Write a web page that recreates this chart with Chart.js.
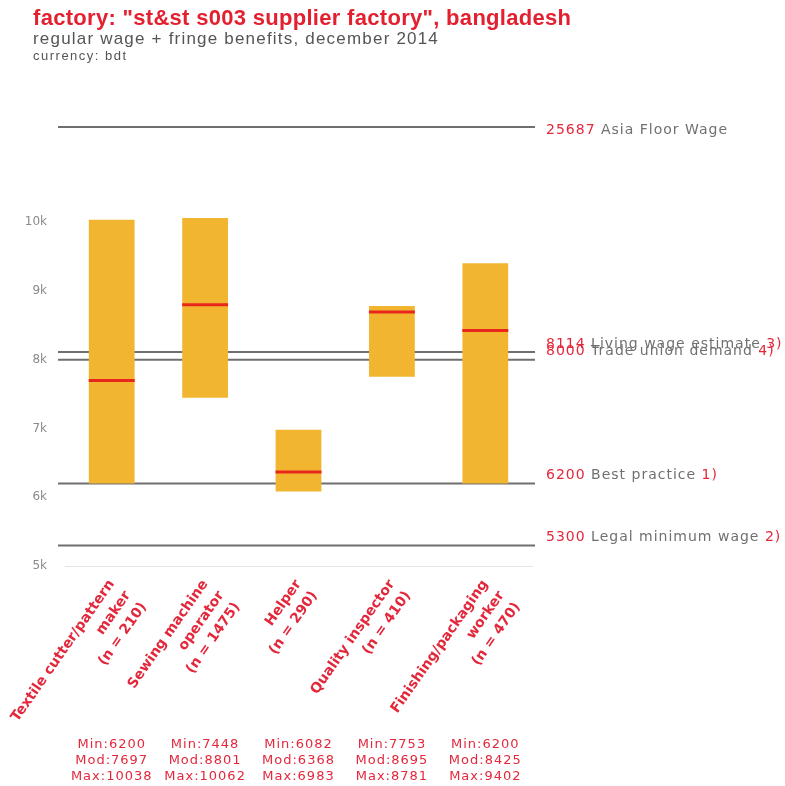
<!DOCTYPE html>
<html>
<head>
<meta charset="utf-8">
<script src="https://cdn.jsdelivr.net/npm/chart.js@4.4.1/dist/chart.umd.min.js"></script>
<style>
  html, body { margin: 0; padding: 0; background: #fff; }
  #wrap { position: relative; width: 785px; height: 786px; }
  #wageChart { position: absolute; left: 0; top: 0; }
  .head { position: absolute; left: 33px; white-space: nowrap; font-family: "Liberation Sans", Arial, sans-serif; }
  #t1 { top: 5px; font-size: 22px; font-weight: bold; color: #e3202f; letter-spacing: 0.3px; }
  #t2 { top: 29px; font-size: 17px; color: #555; letter-spacing: 1.2px; }
  #t3 { top: 48px; font-size: 13px; color: #555; letter-spacing: 1.5px; }
</style>
</head>
<body>
<div id="wrap">
  <canvas id="wageChart" width="785" height="786"></canvas>
  <div class="head" id="t1">factory: "st&amp;st s003 supplier factory", bangladesh</div>
  <div class="head" id="t2">regular wage + fringe benefits, december 2014</div>
  <div class="head" id="t3">currency: bdt</div>
</div>
<script>
const jobLabels = [
    ["Textile cutter/pattern", "maker", "(n = 210)"],
    ["Sewing machine", "operator", "(n = 1475)"],
    ["Helper", "(n = 290)"],
    ["Quality inspector", "(n = 410)"],
    ["Finishing/packaging", "worker", "(n = 470)"],
];
const minWage = [6200, 7448, 6082, 7753, 6200];
const modWage = [7697, 8801, 6368, 8695, 8425];
const maxWage = [10038, 10062, 6983, 8781, 9402];

// reference wages drawn as horizontal lines on the right
const refValues = [25687, 8114, 8000, 6200, 5300];
const refNames = ["Asia Floor Wage", "Living wage estimate", "Trade union demand", "Best practice", "Legal minimum wage"];
const refNotes = ["", "3)", "4)", "1)", "2)"];

const yTicks = [5000, 6000, 7000, 8000, 9000, 10000];

const RED = "#e3283c";

const refLines = {
    id: "refLines",
    beforeDatasetsDraw(chart) {
        const {ctx, chartArea, scales: {y}} = chart;
        ctx.save();
        ctx.strokeStyle = "#6f6f6f";
        ctx.lineWidth = 2;
        refValues.forEach(v => {
            const py = Math.max(chartArea.top + 1, y.getPixelForValue(v));
            ctx.beginPath();
            ctx.moveTo(chartArea.left - 7, py);
            ctx.lineTo(chartArea.right + 3, py);
            ctx.stroke();
        });
        ctx.restore();
    },
    afterDraw(chart) {
        const {ctx, chartArea, scales: {x, y}} = chart;
        ctx.save();
        ctx.font = "14px 'DejaVu Sans'";
        ctx.letterSpacing = "1px";
        ctx.textBaseline = "middle";
        ctx.textAlign = "left";
        refValues.forEach((v, i) => {
            let py = y.getPixelForValue(v);
            if (py < chartArea.top) py = chartArea.top + 4;
            else py = py - 8;
            let px = chartArea.right + 14;
            ctx.fillStyle = RED;
            const s = String(v) + " ";
            ctx.fillText(s, px, py);
            px += ctx.measureText(s).width;
            ctx.fillStyle = "#707070";
            const n = refNames[i] + " ";
            ctx.fillText(n, px, py);
            px += ctx.measureText(n).width;
            ctx.fillStyle = RED;
            ctx.fillText(refNotes[i], px, py);
        });

        // min / mod / max summary under each job
        ctx.font = "13px 'DejaVu Sans'";
        ctx.letterSpacing = "1px";
        ctx.textAlign = "center";
        ctx.fillStyle = RED;
        jobLabels.forEach((l, i) => {
            const px = x.getPixelForValue(i);
            ctx.fillText("Min:" + minWage[i], px, 745);
            ctx.fillText("Mod:" + modWage[i], px, 761);
            ctx.fillText("Max:" + maxWage[i], px, 777);
        });
        ctx.restore();
    }
};

new Chart(document.getElementById("wageChart"), {
    type: "bar",
    data: {
        labels: jobLabels,
        datasets: [
            {
                type: "line",
                label: "Mod",
                data: modWage,
                showLine: false,
                pointStyle: "line",
                pointRadius: 23,
                pointHoverRadius: 23,
                pointBorderWidth: 3,
                pointBorderColor: "#e8261c",
                pointBackgroundColor: "#e8261c",
                order: 0,
            },
            {
                label: "Range",
                data: minWage.map((m, i) => [m, maxWage[i]]),
                backgroundColor: "#f1b530",
                borderWidth: 0,
                categoryPercentage: 1,
                barPercentage: 0.49,
                order: 1,
            },
        ],
    },
    options: {
        responsive: false,
        animation: false,
        events: [],
        layout: { padding: { top: 126, right: 253, left: 0, bottom: 0 } },
        plugins: {
            legend: { display: false },
            tooltip: { enabled: false },
        },
        scales: {
            x: {
                grid: { display: false },
                border: { display: true, color: "#e4e4e4", width: 1 },
                ticks: {
                    minRotation: 55,
                    maxRotation: 55,
                    color: RED,
                    padding: 2,
                    font: { family: "'DejaVu Sans'", size: 14, weight: "bold", lineHeight: 1.4 },
                },
                afterFit(scale) { scale.height = 220; },
            },
            y: {
                min: 5000,
                max: 11400,
                grid: { display: false },
                border: { display: false },
                afterBuildTicks(scale) { scale.ticks = yTicks.map(v => ({ value: v })); },
                ticks: {
                    color: "#8a8a8a",
                    padding: 10,
                    font: { family: "'DejaVu Sans'", size: 12 },
                    callback: v => (v / 1000) + "k",
                },
                afterFit(scale) { scale.width = 65; },
            },
        },
    },
    plugins: [refLines],
});
</script>
</body>
</html>
